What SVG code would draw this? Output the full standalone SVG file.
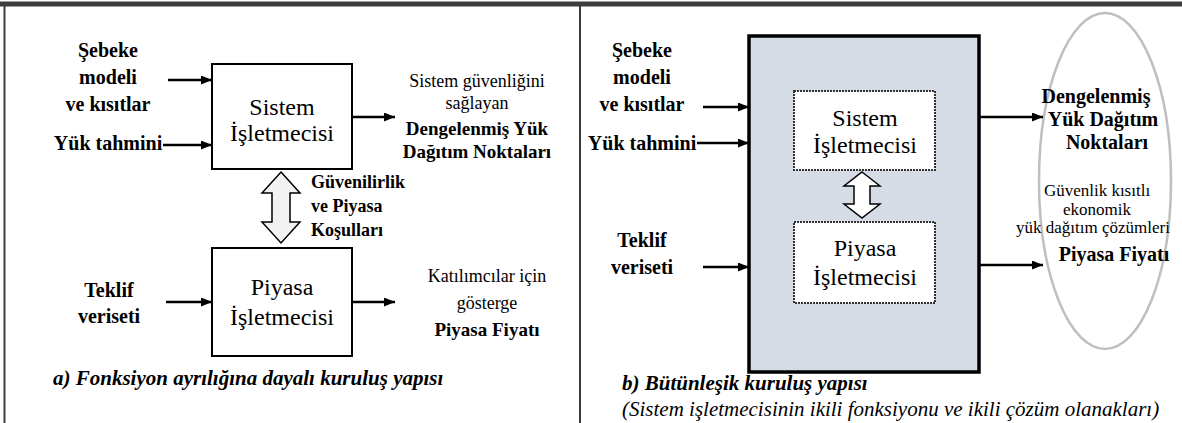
<svg xmlns="http://www.w3.org/2000/svg" width="1182" height="423" viewBox="0 0 1182 423">
<style>
text{fill:#000}
.in{font-size:20px;font-weight:bold;text-anchor:middle}
.box{font-size:24px;text-anchor:middle}
.out{font-size:18px;text-anchor:middle}
.outb{font-size:19px;font-weight:bold;text-anchor:middle}
.rb{font-size:20px;font-weight:bold;text-anchor:middle}
.rs{font-size:17px;text-anchor:middle}
.lbl{font-size:18px;font-weight:bold}
.cap{font-size:21px;font-weight:bold;font-style:italic}
.capi{font-size:21px;font-style:italic}
.node{fill:#fff;stroke:#000;stroke-width:2}
.inner{fill:#fff;stroke:#333;stroke-width:2;stroke-dasharray:2 1}
.conn{stroke:#000;stroke-width:2.5;fill:none;marker-end:url(#ah)}
.frame{stroke:#3c3c3c;fill:none}
</style>
<defs>
<marker id="ah" markerUnits="userSpaceOnUse" markerWidth="11" markerHeight="9" refX="11" refY="4.5" orient="auto">
<path d="M0,0 L11,4.5 L0,9 Z" fill="#000"/>
</marker>
</defs>
<rect width="1182" height="423" fill="#fff"/>
<g id="frame">
<line class="frame" x1="0" y1="4" x2="1182" y2="4" stroke-width="5"/>
<line class="frame" x1="4.5" y1="4" x2="4.5" y2="423" stroke-width="2"/>
<line class="frame" x1="580" y1="4" x2="580" y2="423" stroke-width="2"/>
</g>
<g font-family="'Liberation Serif', 'DejaVu Serif', serif">
<g id="a-inputs-sistem">
<text class="in" x="108" y="57">Şebeke</text>
<text class="in" x="108" y="84">modeli</text>
<text class="in" x="108" y="111">ve kısıtlar</text>
<text class="in" x="108" y="150">Yük tahmini</text>
</g>
<g id="a-sistem">
<rect class="node" x="212" y="64" width="140" height="105"/>
<text class="box" x="282" y="115">Sistem</text>
<text class="box" x="282" y="141">İşletmecisi</text>
</g>
<g id="a-sistem-out">
<text class="out" x="477" y="87">Sistem güvenliğini</text>
<text class="out" x="477" y="109">sağlayan</text>
<text class="outb" x="477" y="135">Dengelenmiş Yük</text>
<text class="outb" x="477" y="158">Dağıtım Noktaları</text>
</g>
<g id="a-kosullar">
<text class="lbl" x="311" y="188">Güvenilirlik</text>
<text class="lbl" x="311" y="212">ve Piyasa</text>
<text class="lbl" x="311" y="236">Koşulları</text>
</g>
<g id="a-inputs-piyasa">
<text class="in" x="109" y="297">Teklif</text>
<text class="in" x="109" y="323">veriseti</text>
</g>
<g id="a-piyasa">
<rect class="node" x="212" y="248" width="140" height="108"/>
<text class="box" x="282" y="295">Piyasa</text>
<text class="box" x="282" y="325">İşletmecisi</text>
</g>
<g id="a-piyasa-out">
<text class="out" x="487" y="282">Katılımcılar için</text>
<text class="out" x="487" y="309">gösterge</text>
<text class="outb" x="487" y="336">Piyasa Fiyatı</text>
</g>
<g id="a-caption">
<text class="cap" x="53" y="385">a) Fonksiyon ayrılığına dayalı kuruluş yapısı</text>
</g>
<g id="b-inputs-sistem">
<text class="in" x="642" y="57">Şebeke</text>
<text class="in" x="642" y="84">modeli</text>
<text class="in" x="642" y="111">ve kısıtlar</text>
<text class="in" x="642" y="150">Yük tahmini</text>
</g>
<g id="b-inputs-piyasa">
<text class="in" x="642" y="247">Teklif</text>
<text class="in" x="642" y="274">veriseti</text>
</g>
<g id="b-container">
<rect x="749" y="36" width="230" height="336" fill="#d6dce5" stroke="#000" stroke-width="3.5"/>
</g>
<g id="b-sistem">
<rect class="inner" x="794" y="91" width="141" height="79"/>
<text class="box" x="865" y="126">Sistem</text>
<text class="box" x="865" y="153">İşletmecisi</text>
</g>
<g id="b-piyasa">
<rect class="inner" x="794" y="222" width="141" height="81"/>
<text class="box" x="865" y="256">Piyasa</text>
<text class="box" x="865" y="285">İşletmecisi</text>
</g>
<g id="b-ellipse">
<ellipse cx="1105" cy="181" rx="66" ry="168" fill="none" stroke="#bfbfbf" stroke-width="2.5"/>
</g>
<g id="b-outputs">
<text class="rb" x="1096" y="103">Dengelenmiş</text>
<text class="rb" x="1103" y="126">Yük Dağıtım</text>
<text class="rb" x="1107" y="149">Noktaları</text>
<text class="rs" x="1097" y="196">Güvenlik kısıtlı</text>
<text class="rs" x="1097" y="215">ekonomik</text>
<text class="rs" x="1093" y="233">yük dağıtım çözümleri</text>
<text class="rb" x="1114" y="261">Piyasa Fiyatı</text>
</g>
<g id="b-caption">
<text class="cap" x="622" y="390">b) Bütünleşik kuruluş yapısı</text>
<text class="capi" x="622" y="416">(Sistem işletmecisinin ikili fonksiyonu ve ikili çözüm olanakları)</text>
</g>
</g>
<g id="connectors">
<line class="conn" x1="168" y1="80" x2="212" y2="80"/>
<line class="conn" x1="163" y1="145" x2="212" y2="145"/>
<line class="conn" x1="352" y1="117" x2="395" y2="117"/>
<line class="conn" x1="166" y1="302" x2="212" y2="302"/>
<line class="conn" x1="352" y1="302" x2="395" y2="302"/>
<path d="M281,172 L300,193 L290,193 L290,222 L300,222 L281,243 L262,222 L272,222 L272,193 L262,193 Z" fill="#f2f2f2" stroke="#000" stroke-width="1.5"/>
<line class="conn" x1="703" y1="107" x2="749" y2="107"/>
<line class="conn" x1="697" y1="143" x2="749" y2="143"/>
<line class="conn" x1="703" y1="267" x2="749" y2="267"/>
<line class="conn" x1="979" y1="117" x2="1043" y2="117"/>
<line class="conn" x1="979" y1="265" x2="1043" y2="265"/>
<path d="M862,172 L880,186 L870,186 L870,204 L880,204 L862,218 L844,204 L854,204 L854,186 L844,186 Z" fill="#fff" stroke="#000" stroke-width="1.5"/>
</g>
</svg>
